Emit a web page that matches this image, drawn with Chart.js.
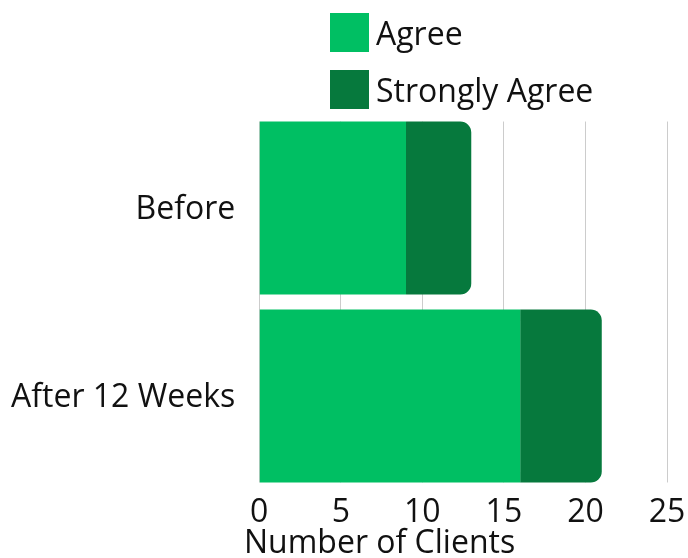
<!DOCTYPE html>
<html>
<head>
<meta charset="utf-8">
<script src="https://cdn.jsdelivr.net/npm/chart.js@4"></script>
<style>
  html, body { margin: 0; padding: 0; background: #fff; overflow: hidden; }
  .wrap { position: relative; width: 688px; height: 558px; font-family: "Open Sans", sans-serif; color: #111; }
  #legend { position: absolute; left: 330px; top: 13px; font-size: 32px; }
  #legend .item { display: flex; align-items: center; height: 39px; margin-bottom: 18px; }
  #legend .box { width: 39px; height: 39px; margin-right: 7px; }
  #x-title { position: absolute; left: 244px; top: 521px; font-size: 32px; line-height: 40px; white-space: nowrap; }
  canvas { position: absolute; left: 0; top: 0; }
</style>
</head>
<body>
<div class="wrap">
  <canvas id="chart" width="688" height="558"></canvas>
  <div id="legend"></div>
  <div id="x-title">Number of Clients</div>
</div>
<script>
  const categories = ['Before', 'After 12 Weeks']
  const agree = [9, 16]
  const stronglyAgree = [4, 5]
  const xTicks = [0, 5, 10, 15, 20, 25]

  const font = '"Open Sans", sans-serif'

  // keep the vertical grid lines within the span of the bars
  const trimGrid = {
    id: 'trimGrid',
    beforeDatasetsDraw(chart) {
      const area = chart.chartArea
      const bars = chart.getDatasetMeta(0).data
      if (!bars.length) return
      const first = bars[0]
      const last = bars[bars.length - 1]
      const top = first.y - first.height / 2
      const bottom = last.y + last.height / 2
      const ctx = chart.ctx
      ctx.save()
      ctx.fillStyle = '#fff'
      ctx.fillRect(area.left - 2, area.top - 1, area.width + 4, top - area.top + 1)
      ctx.fillRect(area.left - 2, bottom, area.width + 4, area.bottom - bottom + 1)
      ctx.restore()
    }
  }

  const chart = new Chart(document.getElementById('chart'), {
    type: 'bar',
    data: {
      labels: categories,
      datasets: [
        {
          label: 'Agree',
          data: agree,
          backgroundColor: '#00BF63',
          borderRadius: 0
        },
        {
          label: 'Strongly Agree',
          data: stronglyAgree,
          backgroundColor: '#06793D',
          borderRadius: 11
        }
      ]
    },
    options: {
      indexAxis: 'y',
      responsive: false,
      animation: false,
      barPercentage: 0.92,
      categoryPercentage: 1,
      layout: { padding: { top: 114, right: 21, bottom: 22, left: -13 } },
      plugins: {
        legend: { display: false },
        tooltip: { enabled: false }
      },
      scales: {
        x: {
          stacked: true,
          min: xTicks[0],
          max: xTicks[xTicks.length - 1],
          afterBuildTicks: function (axis) {
            axis.ticks = xTicks.map(v => ({ value: v }))
          },
          // the outer tick labels may overhang the plot edges
          afterFit: function (axis) {
            axis.paddingLeft = 0
            axis.paddingRight = 0
          },
          grid: { color: '#cccccc', lineWidth: 1, drawTicks: false },
          border: { display: false },
          ticks: {
            padding: 7,
            color: '#111',
            font: { family: font, size: 32, lineHeight: 1 }
          }
        },
        y: {
          stacked: true,
          grid: { display: false, drawTicks: false },
          border: { display: false },
          ticks: {
            padding: 24,
            labelOffset: 2,
            color: '#111',
            font: { family: font, size: 32 }
          }
        }
      }
    },
    plugins: [trimGrid]
  })

  // legend, one entry per line
  const legend = document.getElementById('legend')
  chart.data.datasets.forEach(function (ds) {
    const item = document.createElement('div')
    item.className = 'item'
    const box = document.createElement('span')
    box.className = 'box'
    box.style.background = ds.backgroundColor
    const text = document.createElement('span')
    text.textContent = ds.label
    item.appendChild(box)
    item.appendChild(text)
    legend.appendChild(item)
  })
</script>
</body>
</html>
